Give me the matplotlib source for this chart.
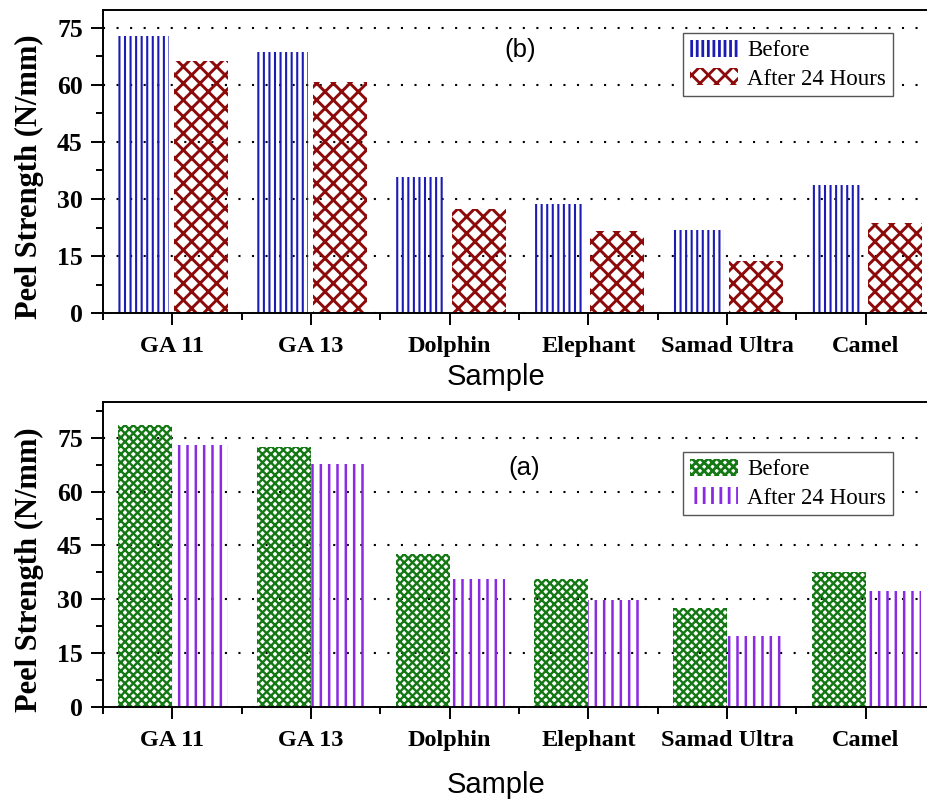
import matplotlib
matplotlib.use('Agg')
import matplotlib.pyplot as plt
import numpy as np
from matplotlib.patches import Patch
from matplotlib.ticker import MultipleLocator, FixedLocator

samples = ['GA 11', 'GA 13', 'Dolphin', 'Elephant', 'Samad Ultra', 'Camel']
series_labels = ['Before', 'After 24 Hours']
# panel (b)
b_before = [72.7, 68.6, 35.7, 28.8, 21.8, 33.8]
b_after = [66.2, 60.6, 27.5, 21.6, 13.8, 23.6]
# panel (a)
a_before = [78.7, 72.4, 42.6, 35.5, 27.5, 37.6]
a_after = [73.1, 67.7, 35.6, 29.7, 19.8, 32.3]
y_ticks = [0, 15, 30, 45, 60, 75]

plt.rcParams['hatch.linewidth'] = 2.0
SERIF = 'Liberation Serif'
SANS = 'Liberation Sans'

fig = plt.figure(figsize=(9.28, 8.01), dpi=100)
left, width = 103 / 928, 832 / 928
ax_b = fig.add_axes([left, 1 - 313.3 / 801, width, (313.3 - 10) / 801])
ax_a = fig.add_axes([left, 1 - 706.7 / 801, width, (706.7 - 402) / 801])


def draw_bars(ax, x, h, w, color, hatch, hlw):
    bars = ax.bar(x, h, w, facecolor='none', edgecolor=color, linewidth=0,
                  hatch=hatch, zorder=2, align='edge')
    for b in bars:
        if hasattr(b, 'set_hatch_linewidth'):
            b.set_hatch_linewidth(hlw)
    return bars


def handle(color, hatch, hlw):
    p = Patch(facecolor='none', edgecolor=color, hatch=hatch, linewidth=0)
    if hasattr(p, 'set_hatch_linewidth'):
        p.set_hatch_linewidth(hlw)
    return p


x = np.arange(len(samples))
BLUE = '#1c1cb4'
MAROON = '#8c0a0a'
GREEN = '#147814'
PURPLE = '#8a2be2'

HB, HM, HG, HP = '|||', 'xx', 'xxxx', '||'
LB, LM, LG, LP = 1.5, 2.1, 1.7, 1.8

# panel (b)
draw_bars(ax_b, x - 0.395, b_before, 0.37, BLUE, HB, LB)
draw_bars(ax_b, x + 0.015, b_after, 0.39, MAROON, HM, LM)
# panel (a)
draw_bars(ax_a, x - 0.39, a_before, 0.39, GREEN, HG, LG)
draw_bars(ax_a, x, a_after, 0.40, PURPLE, HP, LP)


def style(ax, ylim, label_y, title, title_pos, leg_handles, leg_anchor):
    ax.set_xlim(-0.5, 5.5)
    ax.set_ylim(*ylim)
    ax.yaxis.set_major_locator(FixedLocator(y_ticks))
    ax.yaxis.set_minor_locator(MultipleLocator(7.5))
    ax.xaxis.set_major_locator(FixedLocator(x))
    ax.xaxis.set_minor_locator(FixedLocator(np.arange(-0.5, 6.0, 1.0)))
    ax.set_xticklabels(samples, fontfamily=SERIF, fontweight='bold', fontsize=17.5)
    ax.set_yticklabels([str(v) for v in y_ticks], fontfamily=SERIF,
                       fontweight='bold', fontsize=18.5)
    ax.tick_params(which='major', direction='out', length=8.5, width=1.4,
                   top=False, right=False)
    ax.tick_params(which='minor', direction='out', length=5, width=1.4,
                   top=False, right=False)
    ax.tick_params(axis='x', which='major', pad=8)
    ax.tick_params(axis='y', which='major', pad=6)
    for s in ax.spines.values():
        s.set_linewidth(1.4)
    ax.grid(axis='y', which='major', color='black', linestyle=(0, (1, 5.5)),
            linewidth=1.5, zorder=1)
    ax.set_axisbelow(True)
    ax.set_ylabel('Peel Strength (N/mm)', fontfamily=SERIF, fontweight='bold',
                  fontsize=22)
    ax.yaxis.set_label_coords(-0.071, 0.45)
    ax.set_xlabel('Sample', fontfamily=SANS, fontsize=21)
    ax.xaxis.set_label_coords(0.473, label_y)
    ax.text(title_pos[0], title_pos[1], title, transform=ax.transAxes,
            ha='center', va='center', fontfamily=SANS, fontsize=18.5)
    leg = ax.legend(leg_handles, series_labels, loc='upper right',
                    bbox_to_anchor=leg_anchor, bbox_transform=fig.transFigure,
                    borderaxespad=0, fancybox=False, framealpha=1,
                    edgecolor='#555555', prop={'family': SERIF, 'size': 16.5},
                    handlelength=2.1, handleheight=0.75, handletextpad=0.4,
                    labelspacing=0.3, borderpad=0.3)
    leg.get_frame().set_linewidth(1.0)


style(ax_b, (0, 79.6), -0.165, '(b)', (0.501, 0.868),
      [handle(BLUE, HB, LB), handle(MAROON, HM, LM)],
      (893 / 928, 1 - 33 / 801))
style(ax_a, (0, 85.0), -0.212, '(a)', (0.506, 0.783),
      [handle(GREEN, HG, LG), handle(PURPLE, HP, LP)],
      (893 / 928, 1 - 452 / 801))

fig.savefig('out.png', dpi=100)
